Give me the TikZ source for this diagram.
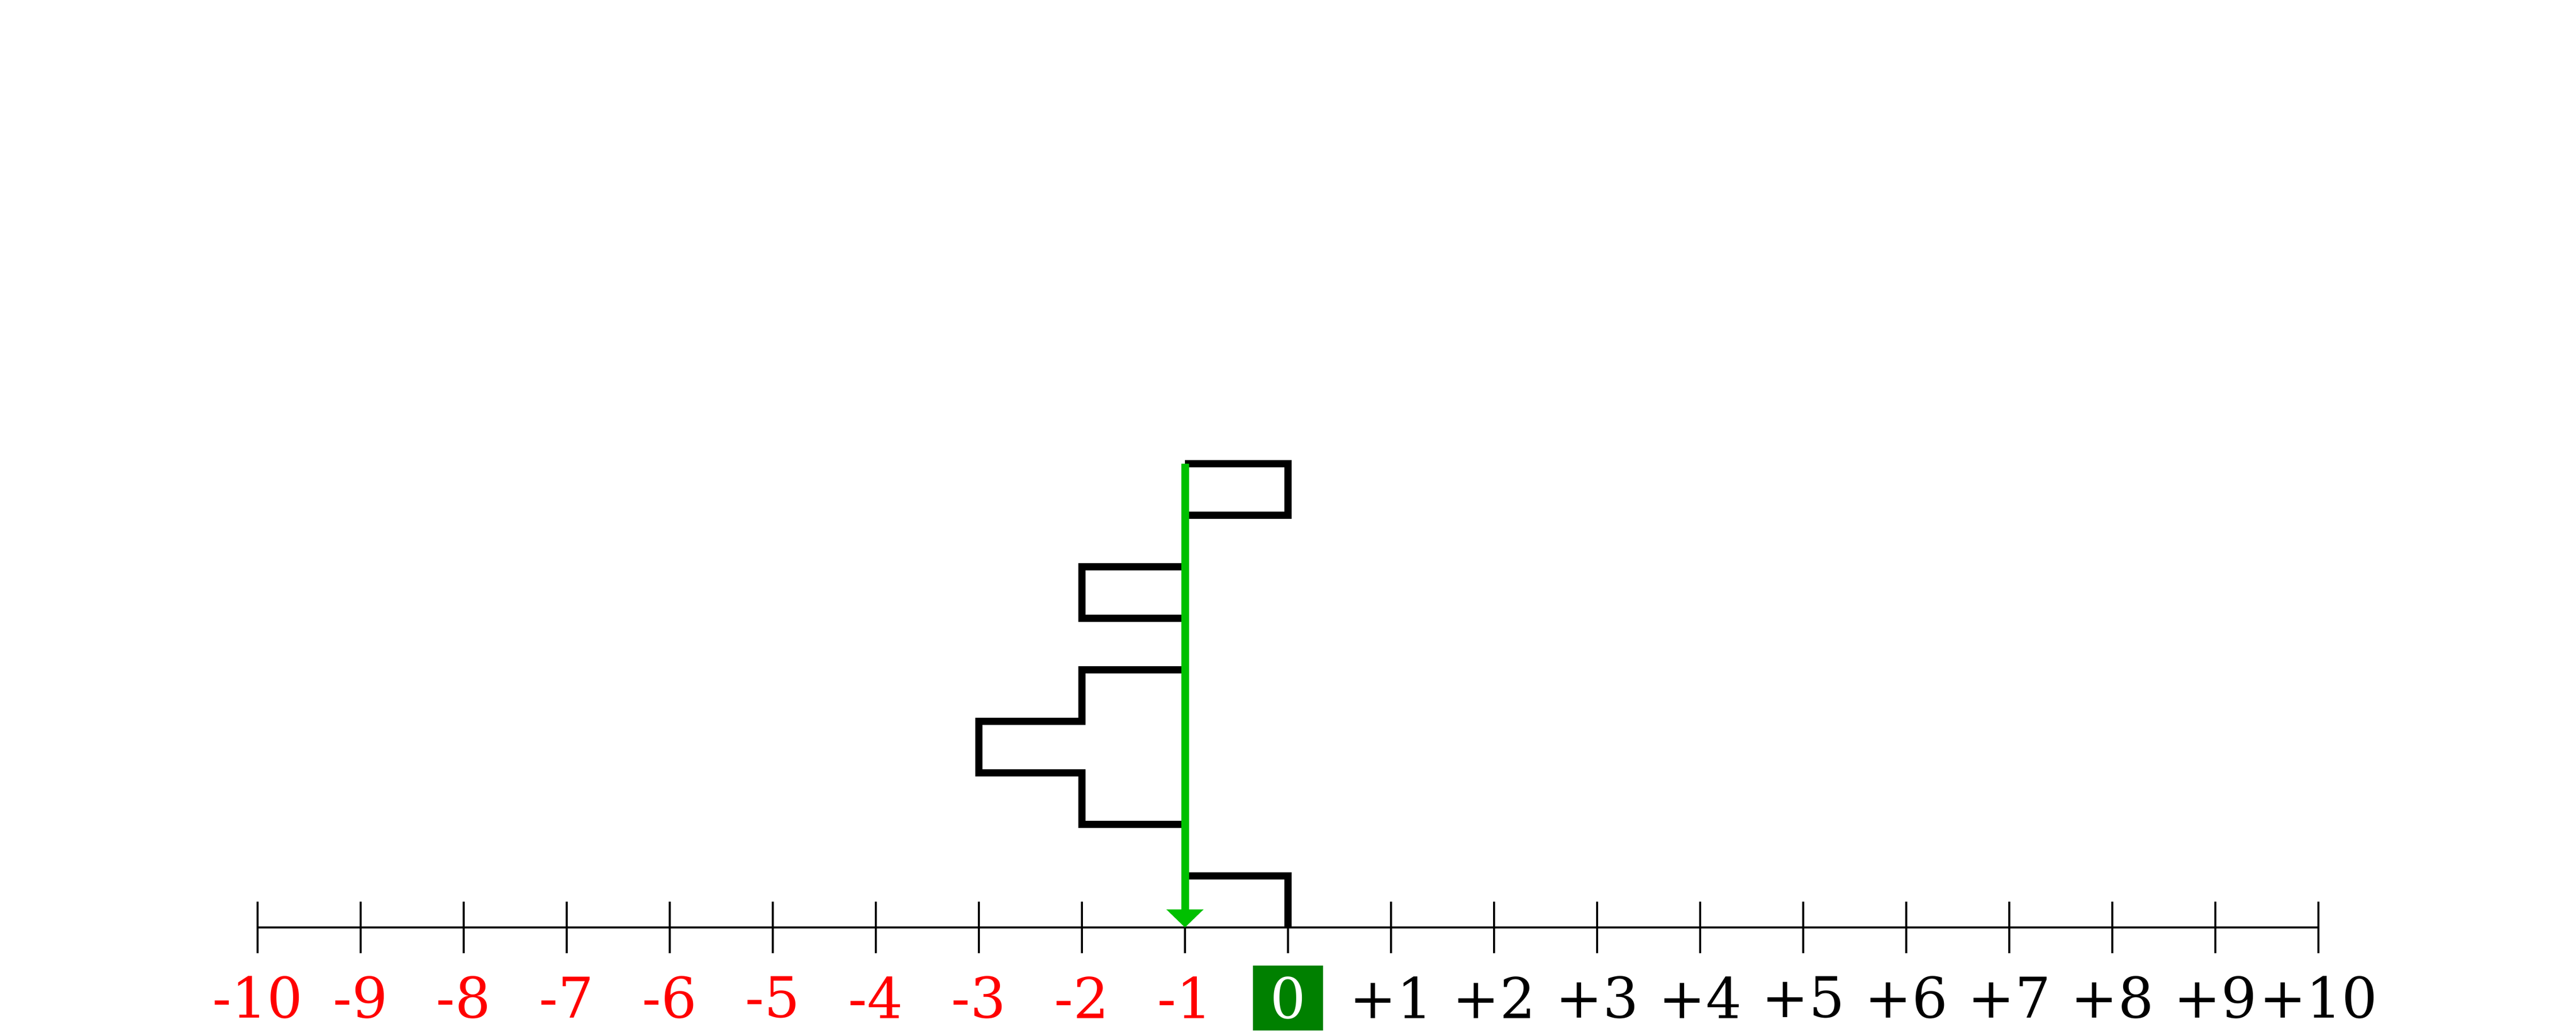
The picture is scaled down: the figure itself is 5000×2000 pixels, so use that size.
\documentclass[tikz,border=0pt]{standalone}
\usepackage{fontspec}
\setmainfont{DejaVu Serif}
\usetikzlibrary{arrows.meta}
\definecolor{arrowgreen}{RGB}{0,192,0}
\definecolor{boxgreen}{RGB}{0,128,0}
\tikzset{
  axisline/.style={line width=0.46mm, black},
  tickline/.style={line width=0.46mm, black},
  flagline/.style={line width=1.4mm, black, line join=miter},
  walkline/.style={line width=1.5mm, arrowgreen, -{Triangle[width=7mm,length=3.5mm]}},
  lbl/.style={font=\fontsize{31}{37}\selectfont, inner sep=0pt, anchor=center},
  zerobox/.style={lbl, fill=boxgreen, text=white, minimum width=13.6mm, minimum height=12.6mm}
}
\begin{document}
\begin{tikzpicture}[x=0.1mm,y=-0.1mm]
\useasboundingbox (0,0) rectangle (5000,2000);
% axis
\coordinate (axL) at (500,1800);
\coordinate (axR) at (4500,1800);
\draw[axisline] (axL) -- (axR);
\foreach \i in {-10,...,10} {
  \coordinate (t\i) at ({2500+200*\i},1800);
  \draw[tickline] ([yshift=-5mm]t\i) -- ([yshift=5mm]t\i);
}
% labels
\foreach \i in {-10,...,-1} {
  \node[lbl, text=red] (l\i) at ({2500+200*\i},1936) {\i};
}
\node[zerobox] (l0) at (2500,1937) {0};
\foreach \i in {1,...,10} {
  \node[lbl, text=black] (l\i) at ({2500+200*\i},1936) {+\i};
}
% walk path
\draw[flagline] (2300,900) -- (2500,900) -- (2500,1000) -- (2300,1000);
\draw[flagline] (2300,1100) -- (2100,1100) -- (2100,1200) -- (2300,1200);
\draw[flagline] (2300,1300) -- (2100,1300) -- (2100,1400) -- (1900,1400) -- (1900,1500) -- (2100,1500) -- (2100,1600) -- (2300,1600);
\draw[flagline] (2300,1700) -- (2500,1700) -- (2500,1800);
% green arrow
\coordinate (start) at (2300,900);
\coordinate (end) at (2300,1800);
\draw[walkline] (start) -- (end);
\end{tikzpicture}
\end{document}
